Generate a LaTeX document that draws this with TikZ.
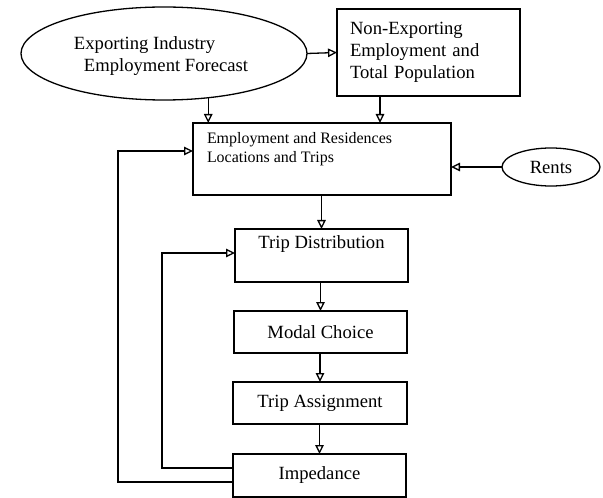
\documentclass[tikz,border=0pt]{standalone}
\usepackage{fontspec}
\setmainfont{Liberation Serif}
\usetikzlibrary{arrows.meta,shapes.geometric,calc}

\begin{document}
\begin{tikzpicture}[x=1bp,y=-1bp,
  every node/.style={inner sep=0pt, outer sep=0pt},
  boxnode/.style={draw, line width=1.3bp, rectangle},
  oval/.style={draw, line width=1.3bp, ellipse},
  txt/.style={font=\fontsize{18.7}{22}\selectfont},
  smalltxt/.style={font=\fontsize{16}{20}\selectfont},
  link/.style={draw, line width=1.3bp, -{Triangle[open,length=9bp,width=8.5bp,line width=1.3bp]}},
]
\useasboundingbox (0,0) rectangle (603,498);

% forecast inputs
\node[oval, minimum width=286bp, minimum height=93bp] (E) at (164,53.5) {};
\node[txt, align=left] (Etext) at (161,56)
  {Exporting Industry\\\hspace*{10bp}Employment Forecast};
\node[boxnode, minimum width=183bp, minimum height=87bp, txt, align=left, text width=157bp] (N) at (428.5,52.5)
  {Non-Exporting\\Employment and\\Total Population};

% location model
\node[boxnode, minimum width=258bp, minimum height=72bp] (M) at (322,159) {};
\node[smalltxt, align=left, anchor=north west] (Mtext) at (207,132)
  {Employment and Residences\\Locations and Trips};
\node[oval, minimum width=98bp, minimum height=38bp, txt] (R) at (551,167) {Rents};

% transport model chain
\node[boxnode, minimum width=173bp, minimum height=53bp] (TD) at (321.5,255.5) {};
\node[txt, anchor=north] (TDtext) at (321.5,236) {Trip Distribution};
\node[boxnode, minimum width=173bp, minimum height=42bp, txt] (MC) at (320.5,332) {Modal Choice};
\node[boxnode, minimum width=174bp, minimum height=42bp, txt] (TA) at (320,403) {Trip Assignment};
\node[boxnode, minimum width=173bp, minimum height=43bp, txt] (IM) at (319.5,475.5) {Impedance};

% feedback loop columns
\coordinate (inL) at (162,0);
\coordinate (outL) at (118,0);

% connectors
\draw[link] (E.east) -- (N.west);
\draw[link] (E.-45) -- (E.-45 |- M.north);
\draw[link] ([xshift=-48.5bp]N.south) -- ([xshift=-48.5bp]N.south |- M.north);
\draw[link] (R.west) -- (R.west -| M.east);
\draw[link] (TD.north |- M.south) -- (TD.north);
\draw[link] (TD.south -| MC.north) -- (MC.north);
\draw[link] (MC.south -| TA.north) -- (TA.north);
\draw[link] (TA.south -| IM.north) -- (IM.north);

\path ([yshift=7.5bp]IM.west) coordinate (i1) ([yshift=2.5bp]TD.west) coordinate (i2);
\draw[link] (i1) -- (i1 -| inL) -- (i2 -| inL) -- (i2);
\path ([yshift=-6.5bp]IM.west) coordinate (o1) ([yshift=8bp]M.west) coordinate (o2);
\draw[link] (o1) -- (o1 -| outL) -- (o2 -| outL) -- (o2);
\end{tikzpicture}
\end{document}
